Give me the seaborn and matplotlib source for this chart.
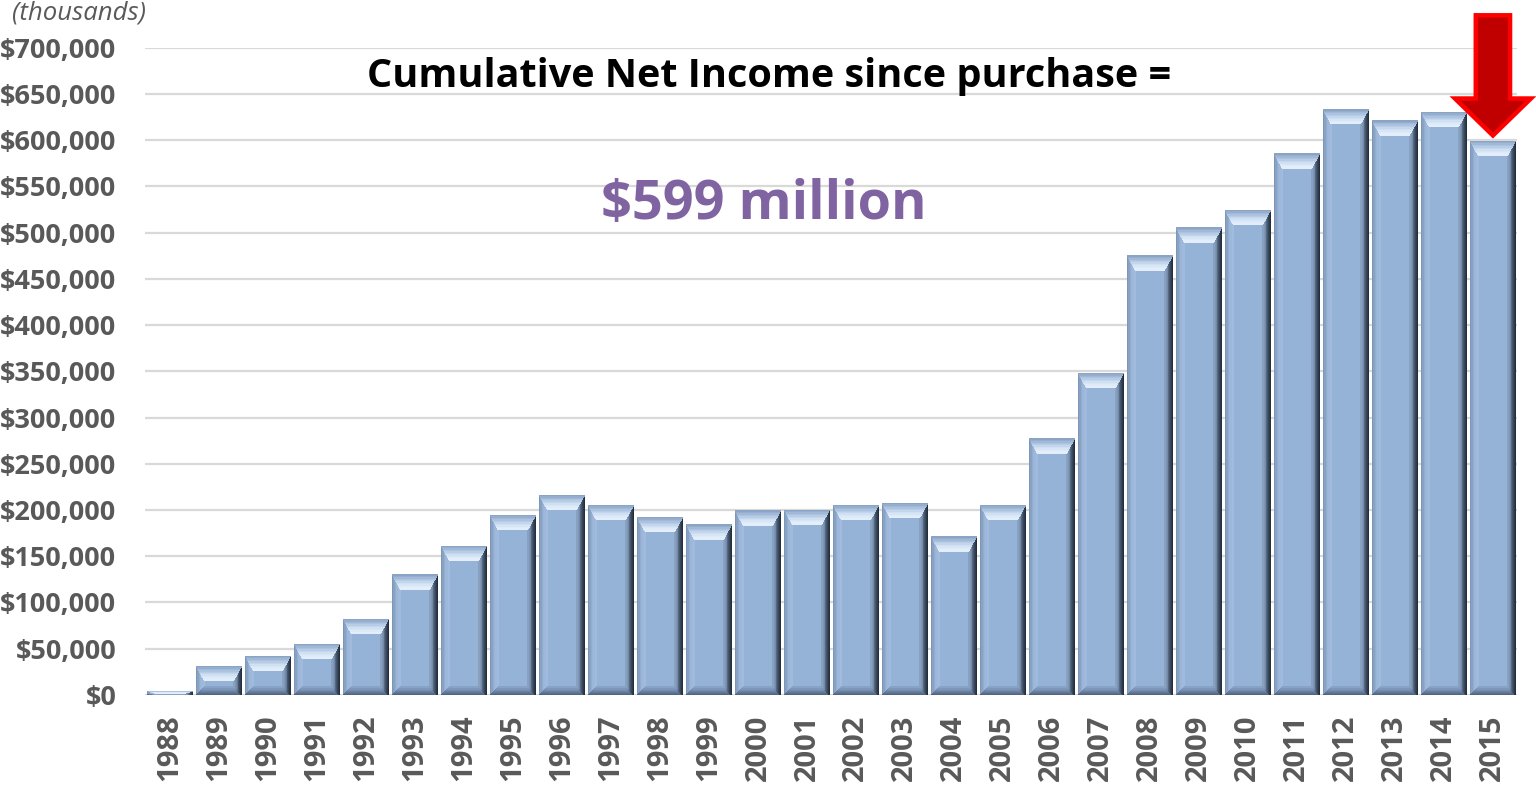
import numpy as np
import pandas as pd
import matplotlib
matplotlib.use("Agg")
import matplotlib.pyplot as plt
from matplotlib.patches import Polygon, FancyArrow
from matplotlib.colors import LinearSegmentedColormap
from matplotlib.ticker import FuncFormatter, MultipleLocator
import seaborn as sns

# ---- data (thousands of $) ----
years = [str(y) for y in range(1988, 2016)]
cum_net_income = [4, 31, 42, 55, 82, 130, 161, 194, 216, 205, 192, 184, 199, 200,
                  205, 207, 171, 205, 277, 348, 475, 505, 524, 585, 633, 621, 630, 599]
cum_net_income = [v * 1000 for v in cum_net_income]
title_text = "Cumulative Net Income since purchase ="
highlight_text = "$599 million"
unit_text = "(thousands)"

df = pd.DataFrame({"year": years, "value": cum_net_income})

sns.set_theme(style="white")
plt.rcParams["font.family"] = ["Open Sans", "DejaVu Sans"]

fig = plt.figure(figsize=(15.36, 7.9), dpi=100)
ax = fig.add_axes([0.0947, 0.1203, 0.8932, 0.8194])

FACE = "#95B3D7"
sns.barplot(data=df, x="year", y="value", color=FACE, saturation=1, width=0.92,
            ax=ax, edgecolor="none", linewidth=0)

ax.set_xlim(-0.5, len(years) - 0.5)
ax.set_ylim(0, 700000)
ax.yaxis.set_major_locator(MultipleLocator(50000))
ax.yaxis.set_major_formatter(FuncFormatter(lambda v, p: "${:,.0f}".format(v)))
ax.grid(axis="y", color="#D9D9D9", linewidth=1.6)
ax.set_axisbelow(True)
for s in ax.spines.values():
    s.set_visible(False)
ax.set_xlabel("")
ax.set_ylabel("")
ax.tick_params(axis="y", length=0, pad=21, labelsize=19.5, labelcolor="#595959")
ax.tick_params(axis="x", length=0, pad=14, labelsize=21, labelcolor="#595959")
for lab in ax.get_yticklabels():
    lab.set_fontweight("bold")
for lab in ax.get_xticklabels():
    lab.set_fontweight("bold")
    lab.set_rotation(90)

# ---- bevel effect on every bar ----
BX = 0.165      # side bevel width (x data units)
BT = 15500      # top bevel depth (y data units)
BB = 9000       # bottom bevel depth


def lerp(a, b, t):
    return (a[0] + (b[0] - a[0]) * t, a[1] + (b[1] - a[1]) * t)


def grad_band(outer, inner, stops, n=10, z=3):
    """outer/inner: pairs of points (p, q); draws n strips between them."""
    cmap = LinearSegmentedColormap.from_list("b", stops)
    for k in range(n):
        t0, t1 = k / n, (k + 1) / n
        a0 = lerp(outer[0], inner[0], t0)
        b0 = lerp(outer[1], inner[1], t0)
        a1 = lerp(outer[0], inner[0], t1)
        b1 = lerp(outer[1], inner[1], t1)
        ax.add_patch(Polygon([a0, b0, b1, a1], closed=True,
                             facecolor=cmap((k + 0.5) / n), edgecolor="none",
                             linewidth=0, zorder=z, antialiased=False))


bars = list(ax.patches)
for p in bars:
    x0 = p.get_x()
    w = p.get_width()
    x1 = x0 + w
    h = p.get_height()
    bx = min(BX, w / 2)
    bt = min(BT, h * 0.55)
    bb = min(BB, h * 0.3)
    TL, TR, BL, BR = (x0, h), (x1, h), (x0, 0), (x1, 0)
    iTL, iTR = (x0 + bx, h - bt), (x1 - bx, h - bt)
    iBL, iBR = (x0 + bx, bb), (x1 - bx, bb)
    # left bevel
    grad_band((TL, BL), (iTL, iBL), ["#7890B0", "#98B3D5", "#A2BDDE"], n=6)
    # bottom bevel
    grad_band((BL, BR), (iBL, iBR), ["#4F6079", "#6A82A3", "#8CA7CA"], n=7)
    # right bevel
    grad_band((TR, BR), (iTR, iBR), ["#1F2936", "#3E4D62", "#6E84A3", "#8EA7C7"], n=9)
    # top bevel
    grad_band((TL, TR), (iTL, iTR), ["#879FC0", "#A9C1DF", "#D2E2F4", "#E6F0FB"], n=10)

# ---- arrow pointing at the last bar ----
last = bars[-1]
cx = last.get_x() + last.get_width() / 2
tip = last.get_height() + 6000
start = 735000
arrow = FancyArrow(cx, start, 0, tip - start, width=0.70, head_width=1.55,
                   head_length=40000, length_includes_head=True,
                   facecolor="#C00000", edgecolor="#FF0000", linewidth=3.2,
                   clip_on=False, zorder=6)
ax.add_patch(arrow)

# ---- texts ----
fig.text(0.501, 0.903, title_text, ha="center", va="center",
         fontsize=28.5, fontweight="bold", color="black")
fig.text(0.497, 0.740, highlight_text, ha="center", va="center",
         fontsize=39, fontweight="bold", color="#8064A2")
fig.text(0.008, 0.983, unit_text, ha="left", va="center",
         fontsize=18.5, fontstyle="italic", color="#595959")

fig.savefig("out.png", dpi=100)
